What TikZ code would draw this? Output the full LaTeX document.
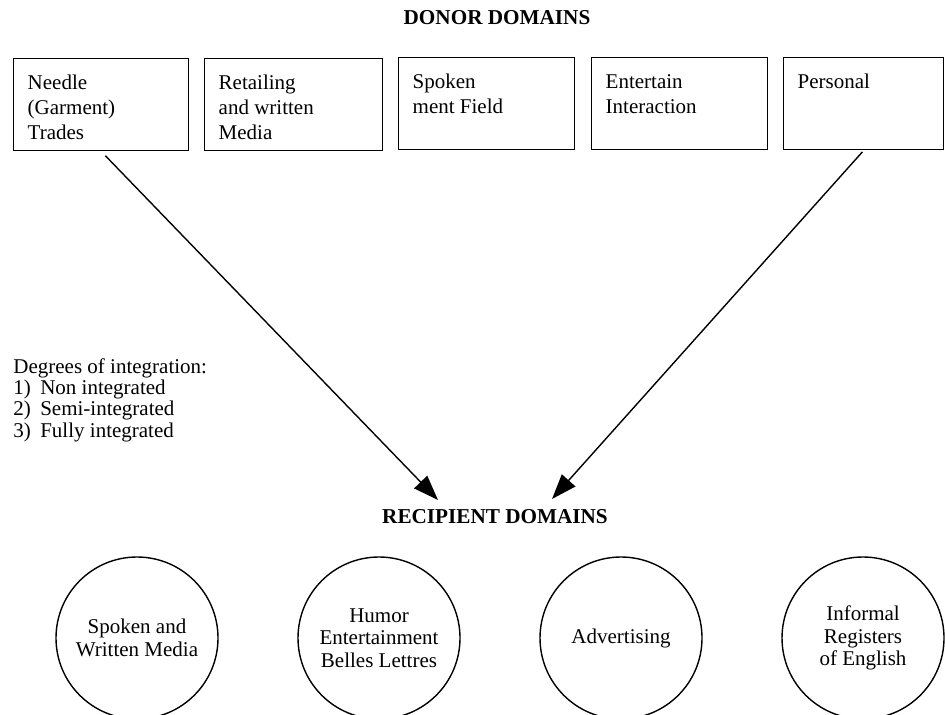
\documentclass[tikz,border=0pt]{standalone}
\usepackage{fontspec}
\setmainfont{Liberation Serif}
\usetikzlibrary{arrows.meta}

\newcommand{\donortext}[2]{\parbox[c][46pt][t]{#1}{\raggedright\rule{0pt}{15.5pt}#2}}

\tikzset{
    donor/.style={draw, line width=0.7pt, anchor=north west, inner xsep=7pt, inner ysep=0pt, font=\fontsize{10.5}{12.5}\selectfont},
    recip/.style={draw, circle, line width=0.7pt, minimum size=81pt, inner sep=0pt, align=center, font=\fontsize{10.5}{11.2}\selectfont},
    head/.style={font=\fontsize{10.6}{12}\selectfont\bfseries},
    link/.style={-{Triangle[length=12.5pt,width=9pt]}, line width=0.7pt}
}

\begin{document}
\begin{tikzpicture}[x=0.5pt,y=-0.5pt]
            \useasboundingbox (0,0) rectangle (945,715);
            \clip (0,0) rectangle (945,715);
            \node [head] (donor) at (497,18) {DONOR DOMAINS};
            \node [donor] (d1) at (13,58)  {\donortext{73.5pt}{Needle\\(Garment)\\Trades}};
            \node [donor] (d2) at (204,58) {\donortext{75pt}{Retailing\\and written\\Media}};
            \node [donor] (d3) at (398,57) {\donortext{74pt}{Spoken\\ment Field}};
            \node [donor] (d4) at (591,57) {\donortext{74pt}{Entertain\\Interaction}};
            \node [donor] (d5) at (783,57) {\donortext{66pt}{Personal}};
            \node [anchor=north west, inner sep=0pt, align=left, font=\fontsize{10.5}{10.7}\selectfont] (deg) at (13,358)
                {Degrees of integration:\\1)\hspace{0.45em}Non integrated\\2)\hspace{0.45em}Semi-integrated\\3)\hspace{0.45em}Fully integrated};
            \node [head] (recipient) at (495,517) {RECIPIENT DOMAINS};
            \node [recip] (r1) at (137,638) {Spoken and\\Written Media};
            \node [recip] (r2) at (379,638) {Humor\\Entertainment\\Belles Lettres};
            \node [recip] (r3) at (621,638) {Advertising};
            \node [recip] (r4) at (863,638) {Informal\\Registers\\of English};
            \coordinate (e1) at (438,500);
            \coordinate (e2) at (552,499);
            \draw[link, shorten <=3pt] (d1.south) -- (e1);
            \draw[link, shorten <=1pt] (d5.south) -- (e2);
        \end{tikzpicture}
\end{document}
